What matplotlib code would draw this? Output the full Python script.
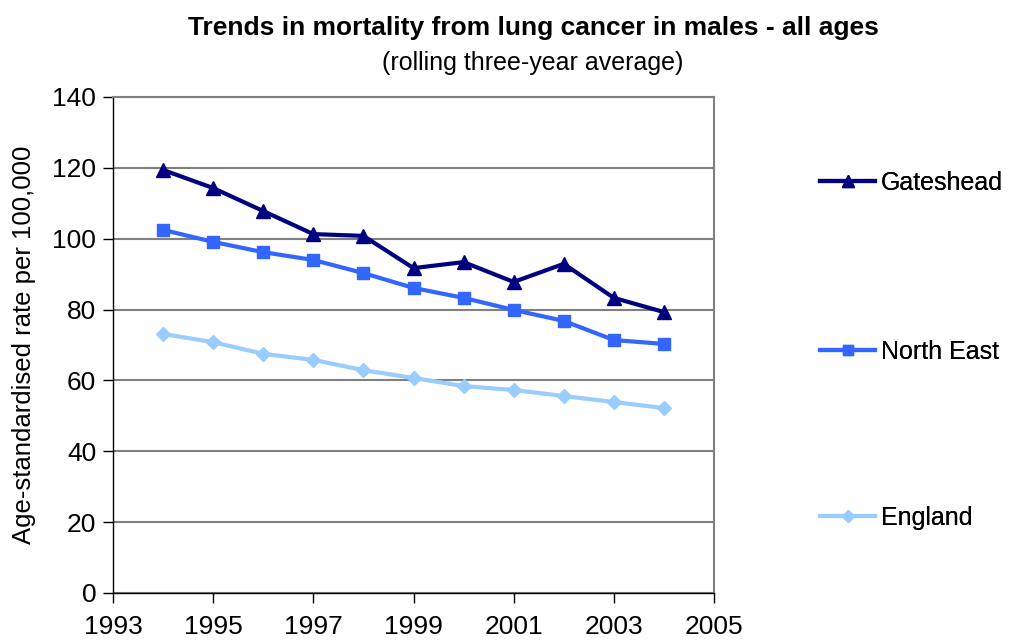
import matplotlib
matplotlib.use("Agg")
import matplotlib.pyplot as plt

years = [1994, 1995, 1996, 1997, 1998, 1999, 2000, 2001, 2002, 2003, 2004]
gateshead = [119.4, 114.3, 107.8, 101.3, 100.8, 91.7, 93.4, 87.8, 92.9, 83.3, 79.3]
north_east = [102.5, 99.1, 96.2, 94.0, 90.3, 86.1, 83.3, 79.9, 76.8, 71.4, 70.3]
england = [73.1, 70.8, 67.5, 65.8, 62.9, 60.7, 58.4, 57.3, 55.6, 53.9, 52.2]
series_names = ["Gateshead", "North East", "England"]
x_ticks = [1993, 1995, 1997, 1999, 2001, 2003, 2005]
y_ticks = [0, 20, 40, 60, 80, 100, 120, 140]

plt.rcParams['font.family'] = ['Liberation Sans', 'DejaVu Sans']

fig = plt.figure(figsize=(10.10, 6.41), dpi=100)
ax = fig.add_axes([113/1010, 48/641, 601/1010, 496/641])

ax.plot(years, gateshead, color='#000080', lw=3, marker='^', ms=10, label=series_names[0])
ax.plot(years, north_east, color='#3366FF', lw=3, marker='s', ms=8.5, label=series_names[1])
ax.plot(years, england, color='#99CCFF', lw=3, marker='D', ms=7.5, label=series_names[2])

ax.set_xlim(1993, 2005)
ax.set_ylim(0, 140)
ax.set_xticks(x_ticks)
ax.set_yticks(y_ticks)
ax.yaxis.grid(True, color='#808080', lw=1.5)
ax.set_axisbelow(True)
ax.tick_params(axis='both', direction='out', length=7, width=1, labelsize=19, colors='black')
ax.tick_params(axis='x', pad=9)
ax.tick_params(axis='y', pad=5)
for s in ['top', 'right']:
    ax.spines[s].set_color('#808080')
    ax.spines[s].set_linewidth(1.5)
for s in ['left', 'bottom']:
    ax.spines[s].set_color('black')
    ax.spines[s].set_linewidth(1)
ax.set_ylabel('Age-standardised rate per 100,000', fontsize=18.5, labelpad=12)

fig.text(533/1010, 1 - 28/641, 'Trends in mortality from lung cancer in males - all ages',
         fontweight='bold', fontsize=19, ha='center', va='center')
fig.text(533/1010, 1 - 63/641, '(rolling three-year average)',
         fontsize=18, ha='center', va='center')

handles, labels = ax.get_legend_handles_labels()
ys = [183, 352, 518]
for h, lab, y in zip(handles, labels, ys):
    leg = fig.legend([h], [lab], loc='center left', bbox_to_anchor=(820/1010, 1 - y/641),
                     frameon=False, fontsize=18, handlelength=2.2, handletextpad=0.25,
                     borderaxespad=0, borderpad=0, markerscale=0.8)
    fig.add_artist(leg)

fig.savefig('out.png', dpi=100)
